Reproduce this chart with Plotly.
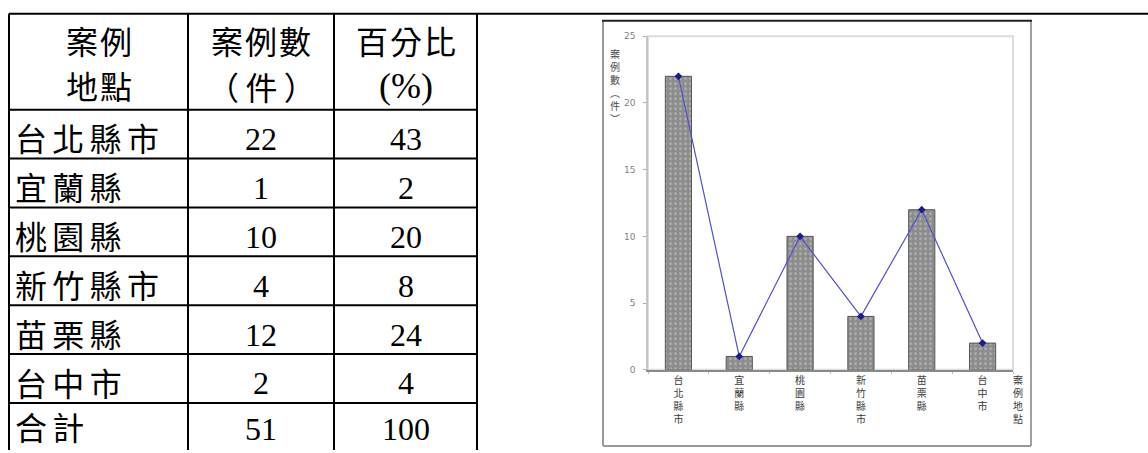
import plotly.graph_objects as go

W, H = 1148, 453

# ---- data -------------------------------------------------------------
locations = ["台北縣市", "宜蘭縣", "桃園縣", "新竹縣市", "苗栗縣", "台中市"]
case_counts = [22, 1, 10, 4, 12, 2]
percentages = [43, 2, 20, 8, 24, 4]
total_label = "合計"
total_count = 51
total_percent = 100

header_location = ["案例", "地點"]
header_count = ["案例數", "（件）"]
header_percent = ["百分比", "(%)"]

y_ticks = [0, 5, 10, 15, 20, 25]
y_title = "案例數︵件︶"
x_title = "案例地點"


def fx(p):
    return p / W


def fy(p):
    return 1 - p / H


def stack(s):
    return "<br>".join(s)


def spaced(s, gap="\u2006"):
    # widen the tracking of CJK cell text
    return gap.join(s)


CJK = "Noto Sans CJK TC"
SERIF = "Liberation Serif"

fig = go.Figure()

# ---- chart: bars + line ----------------------------------------------
fig.add_trace(go.Bar(
    x=locations, y=case_counts, width=0.43,
    marker=dict(
        color="#8c8c8c",
        line=dict(color="#555555", width=1),
        pattern=dict(shape=".", fgcolor="#d0d0d0", bgcolor="#8c8c8c",
                     size=5, solidity=0.25),
    ),
    showlegend=False,
))
fig.add_trace(go.Scatter(
    x=locations, y=case_counts, mode="lines+markers",
    line=dict(color="#5050cc", width=1.2),
    marker=dict(symbol="diamond", size=6, color="#1c1c8c"),
    showlegend=False,
))

plot_l, plot_r, plot_t, plot_b = 648, 1013, 32, 373

fig.update_xaxes(
    domain=[fx(plot_l), fx(plot_r)],
    tickvals=locations,
    ticktext=[stack(s) for s in locations],
    tickfont=dict(family=CJK, size=10, color="#3a3a3a"),
    tickangle=0,
    showline=True, linecolor="#8a8a8a", linewidth=2,
    ticks="outside", tickson="boundaries", ticklen=2, tickcolor="#bbbbbb",
    showgrid=False, zeroline=False, fixedrange=True,
)
fig.update_yaxes(
    domain=[fy(plot_b), fy(plot_t)],
    range=[0, 25],
    tickvals=y_ticks,
    tickfont=dict(family="DejaVu Sans", size=9, color="#808080"),
    showline=True, linecolor="#c4c4c4", linewidth=1.5,
    ticks="outside", ticklen=3, tickcolor="#aaaaaa",
    ticklabelstandoff=6,
    showgrid=False, zeroline=False, fixedrange=True,
)

shapes = []


def hline(x0, x1, y, color="black", width=2):
    shapes.append(dict(type="line", xref="paper", yref="paper",
                       x0=fx(x0), x1=fx(x1), y0=fy(y), y1=fy(y),
                       line=dict(color=color, width=width)))


def vline(x, y0, y1, color="black", width=2):
    shapes.append(dict(type="line", xref="paper", yref="paper",
                       x0=fx(x), x1=fx(x), y0=fy(y0), y1=fy(y1),
                       line=dict(color=color, width=width)))


# light frame around the plot area
shapes.append(dict(type="rect", xref="paper", yref="paper",
                   x0=fx(plot_l), x1=fx(plot_r), y0=fy(plot_b), y1=fy(plot_t),
                   line=dict(color="#dcdcdc", width=2), layer="below"))

# outer chart frame
vline(603, 16, 451, color="#9a9a9a", width=2)
vline(1031, 16, 451, color="#a0a0a0", width=2)
hline(603, 1031, 451, color="#9a9a9a", width=2)
hline(602, 1032, 16, color="#222222", width=2)

# long rule across the top of the page
hline(9, W, 9, width=2)

# ---- table grid -------------------------------------------------------
col_x = [9, 188, 334, 477]
row_y = [9, 107, 157, 207, 257, 307, 357, 407]
for x in col_x:
    vline(x, 9, H + 2)
for y in row_y[1:]:
    hline(col_x[0], col_x[-1], y)

annotations = []


def text(x, y, s, family, size, anchor="center"):
    annotations.append(dict(xref="paper", yref="paper", x=fx(x), y=fy(y),
                            text=s, showarrow=False, xanchor=anchor,
                            yanchor="middle",
                            font=dict(family=family, size=size, color="black")))


c1 = (col_x[0] + col_x[1]) / 2
c2 = (col_x[1] + col_x[2]) / 2
c3 = (col_x[2] + col_x[3]) / 2

text(c1, 36, spaced(header_location[0], "\u200a"), CJK, 32)
text(c1, 82, spaced(header_location[1], "\u200a"), CJK, 32)
text(c2, 36, spaced(header_count[0], "\u200a"), CJK, 32)
text(c2, 83, spaced(header_count[1], "\u2009"), CJK, 32)
text(c3, 36, spaced(header_percent[0], "\u200a"), CJK, 32)
text(c3, 83, header_percent[1], SERIF, 36)

rows = list(zip(locations, case_counts, percentages))
rows.append((total_label, total_count, total_percent))
last = len(rows) - 1
for i, (name, cnt, pct) in enumerate(rows):
    top = row_y[i + 1]
    cy_txt = top + (23 if i == last else 28)
    cy_num = top + (27 if i == last else 30)
    text(13, cy_txt, spaced(name), CJK, 32, anchor="left")
    text(c2, cy_num, str(cnt), SERIF, 32)
    text(c3, cy_num, str(pct), SERIF, 32)

# axis titles (stacked vertically)
annotations.append(dict(xref="paper", yref="paper", x=fx(615), y=fy(83),
                        text=stack(y_title), showarrow=False,
                        xanchor="center", yanchor="middle",
                        font=dict(family=CJK, size=10, color="#4a4a4a")))
annotations.append(dict(xref="paper", yref="paper", x=fx(1018), y=fy(403),
                        text=stack(x_title), showarrow=False,
                        xanchor="center", yanchor="middle",
                        font=dict(family=CJK, size=10, color="#3a3a3a")))

fig.update_layout(
    width=W, height=H,
    margin=dict(l=0, r=0, t=0, b=0),
    paper_bgcolor="white", plot_bgcolor="white",
    bargap=0.57,
    shapes=shapes,
    annotations=annotations,
)

fig.write_html("out.html")
